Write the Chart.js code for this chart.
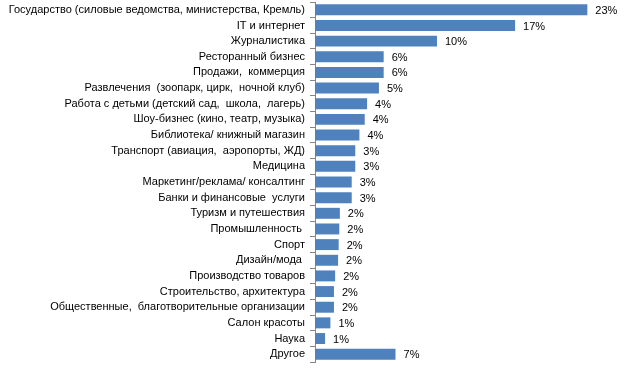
<!DOCTYPE html>
<html>
<head>
<meta charset="utf-8">
<script src="https://cdn.jsdelivr.net/npm/chart.js@4/dist/chart.umd.min.js"></script>
<style>
  html, body { margin: 0; padding: 0; background: #fff; }
  #wrap { width: 643px; height: 372px; position: relative; }
</style>
</head>
<body>
<div id="wrap"><canvas id="chart"></canvas></div>
<script>
// Sectors, top to bottom as in the source chart.
const sectors = [
  "Государство (силовые ведомства, министерства, Кремль)",
  "IT и интернет",
  "Журналистика",
  "Ресторанный бизнес",
  "Продажи,  коммерция",
  "Развлечения  (зоопарк, цирк,  ночной клуб)",
  "Работа с детьми (детский сад,  школа,  лагерь)",
  "Шоу-бизнес (кино, театр, музыка)",
  "Библиотека/ книжный магазин",
  "Транспорт (авиация,  аэропорты, ЖД)",
  "Медицина",
  "Маркетинг/реклама/ консалтинг",
  "Банки и финансовые  услуги",
  "Туризм и путешествия",
  "Промышленность ",
  "Спорт",
  "Дизайн/мода ",
  "Производство товаров",
  "Строительство, архитектура",
  "Общественные,  благотворительные организации",
  "Салон красоты",
  "Наука",
  "Другое",
];

// Shares in percent (labels show rounded values).
const shares = [
  23, 16.9, 10.3, 5.8, 5.8, 5.4, 4.4, 4.2, 3.75, 3.4, 3.4, 3.1,
  3.1, 2.1, 2.05, 2.0, 1.95, 1.7, 1.6, 1.6, 1.3, 0.85, 6.8,
];

const fontStack = "'Liberation Sans', Arial, sans-serif";
const axisGray = "#868686";

// Percent labels just past the end of each bar.
const valueLabels = {
  id: "valueLabels",
  afterDatasetsDraw(chart) {
    const ctx = chart.ctx;
    const meta = chart.getDatasetMeta(0);
    ctx.save();
    ctx.font = "11px " + fontStack;
    ctx.fillStyle = "#000";
    ctx.textBaseline = "middle";
    ctx.textAlign = "left";
    meta.data.forEach((bar, i) => {
      ctx.fillText(Math.round(shares[i]) + "%", bar.x + 8, bar.y + 1);
    });
    ctx.restore();
  },
};

new Chart(document.getElementById("chart").getContext("2d"), {
  type: "bar",
  data: {
    labels: sectors,
    datasets: [
      {
        data: shares,
        backgroundColor: "#4f81bd",
        borderWidth: 0,
        barPercentage: 0.7,
        categoryPercentage: 1,
      },
    ],
  },
  options: {
    indexAxis: "y",
    responsive: true,
    maintainAspectRatio: false,
    animation: false,
    layout: { padding: { top: 2, bottom: 10, left: 0, right: 0 } },
    plugins: {
      legend: { display: false },
      tooltip: { enabled: false },
    },
    scales: {
      x: {
        display: false,
        min: 0,
        max: 27.7,
      },
      y: {
        // fixed label column; drop the half-label padding so rows fill the height
        afterFit(scale) {
          scale.width = 315;
          scale.paddingTop = 0;
          scale.paddingBottom = 0;
        },
        ticks: {
          color: "#000",
          padding: 5,
          autoSkip: false,
          font: { family: fontStack, size: 11 },
        },
        grid: {
          drawOnChartArea: false,
          drawTicks: true,
          tickLength: 5,
          color: axisGray,
        },
        border: { color: axisGray, width: 1 },
      },
    },
  },
  plugins: [valueLabels],
});
</script>
</body>
</html>
